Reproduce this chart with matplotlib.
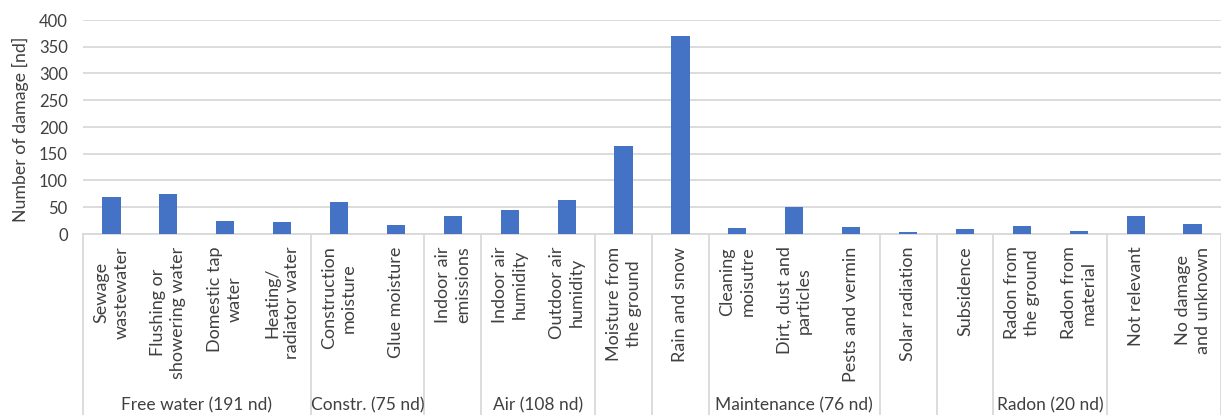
import matplotlib
matplotlib.use("Agg")
import matplotlib.pyplot as plt
import matplotlib.transforms as mtransforms

# categories (bottom level of the axis) and their counts
categories = [
    "Sewage\nwastewater", "Flushing or\nshowering water", "Domestic tap\nwater",
    "Heating/\nradiator water", "Construction\nmoisture", "Glue moisture",
    "Indoor air\nemissions", "Indoor air\nhumidity", "Outdoor air\nhumidity",
    "Moisture from\nthe ground", "Rain and snow", "Cleaning\nmoisutre",
    "Dirt, dust and\nparticles", "Pests and vermin", "Solar radiation",
    "Subsidence", "Radon from\nthe ground", "Radon from\nmaterial",
    "Not relevant", "No damage\nand unknown",
]
damage = [70, 75, 24, 22, 59, 16, 33, 45, 63, 164, 370, 11, 51, 13, 3, 10, 15, 5, 33, 18]

# outer grouping level: label and number of categories it spans
group_labels = ["Free water (191 nd)", "Constr. (75 nd)", "", "Air (108 nd)", "", "",
                "Maintenance (76 nd)", "", "", "Radon (20 nd)", ""]
group_sizes = [4, 2, 1, 2, 1, 1, 3, 1, 1, 2, 2]

yticks = [0, 50, 100, 150, 200, 250, 300, 350, 400]

W, H = 1221, 415
plt.rcParams["font.family"] = ["Lato", "DejaVu Sans"]
text_col = "#404040"
grid_col = "#D9D9D9"

fig = plt.figure(figsize=(W / 100, H / 100), dpi=100)
ax_left, ax_bottom = 83 / W, 1 - 234 / H
ax = fig.add_axes([ax_left, ax_bottom, 1 - ax_left, (234 - 20) / H])

x = list(range(len(categories)))
ax.bar(x, damage, width=0.32, color="#4472C4", zorder=3)

ax.set_xlim(-0.5, len(categories) - 0.5)
ax.set_ylim(0, 400)
ax.set_yticks(yticks)
ax.tick_params(axis="y", length=0, pad=11, labelsize=12, labelcolor=text_col)
ax.yaxis.grid(True, color=grid_col, linewidth=1.3, zorder=0)
ax.set_axisbelow(True)
for s in ["top", "right", "left"]:
    ax.spines[s].set_visible(False)
ax.spines["bottom"].set_color(grid_col)
ax.spines["bottom"].set_linewidth(1.3)

ax.set_xticks(x)
ax.set_xticklabels(categories, rotation=90, va="top", ha="center",
                   multialignment="center", fontsize=13, color=text_col,
                   linespacing=1.3)
ax.tick_params(axis="x", length=0, pad=9)

fig.text(20 / W, 1 - 129 / H, "Number of damage [nd]", rotation=90,
         ha="center", va="center", fontsize=12.8, color=text_col)

# group separators and group labels below the category labels
trans = mtransforms.blended_transform_factory(ax.transData, fig.transFigure)
pos = 0
bounds = [0]
for size in group_sizes:
    pos += size
    bounds.append(pos)
for b in bounds:
    ax.plot([b - 0.5, b - 0.5], [0, ax_bottom], transform=trans, color=grid_col,
            linewidth=1.3, clip_on=False)
for lab, start, end in zip(group_labels, bounds[:-1], bounds[1:]):
    if lab:
        ax.text((start + end - 1) / 2, 1 - 405 / H, lab, transform=trans,
                ha="center", va="center", fontsize=12.5, color=text_col)

fig.savefig("out.png", dpi=100)
